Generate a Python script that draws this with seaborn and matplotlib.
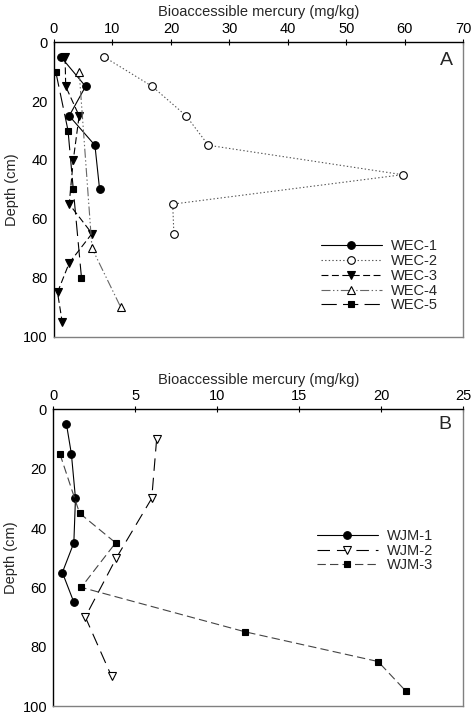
import matplotlib
matplotlib.use("Agg")
import matplotlib.pyplot as plt
import seaborn as sns
import pandas as pd

# ---- data (depth in cm, Hg in mg/kg) ----
wec1_depth = [5, 15, 25, 35, 50]
wec1_hg = [1.2, 5.4, 2.6, 7.0, 7.8]
wec2_depth = [5, 15, 25, 35, 45, 55, 65]
wec2_hg = [8.6, 16.8, 22.6, 26.4, 59.6, 20.3, 20.5]
wec3_depth = [5, 15, 25, 40, 55, 65, 75, 85, 95]
wec3_hg = [1.9, 2.0, 4.3, 3.3, 2.6, 6.5, 2.6, 0.6, 1.4]
wec4_depth = [10, 70, 90]
wec4_hg = [4.3, 6.5, 11.4]
wec5_depth = [10, 30, 50, 80]
wec5_hg = [0.3, 2.4, 3.3, 4.7]

wjm1_depth = [5, 15, 30, 45, 55, 65]
wjm1_hg = [0.8, 1.1, 1.35, 1.25, 0.55, 1.25]
wjm2_depth = [10, 30, 50, 70, 90]
wjm2_hg = [6.3, 6.0, 3.85, 1.95, 3.55]
wjm3_depth = [15, 35, 45, 60, 75, 85, 95]
wjm3_hg = [0.4, 1.6, 3.8, 1.7, 11.7, 19.8, 21.5]

panel_a = {"WEC-1": (wec1_hg, wec1_depth), "WEC-2": (wec2_hg, wec2_depth),
           "WEC-3": (wec3_hg, wec3_depth), "WEC-4": (wec4_hg, wec4_depth),
           "WEC-5": (wec5_hg, wec5_depth)}
panel_b = {"WJM-1": (wjm1_hg, wjm1_depth), "WJM-2": (wjm2_hg, wjm2_depth),
           "WJM-3": (wjm3_hg, wjm3_depth)}

# ---- styles: color, dash pattern, marker, face colour ----
STYLES = {
    "WEC-1": ("black", "-", "o", "black"),
    "WEC-2": ("#555555", (0, (1, 1.6)), "o", "white"),
    "WEC-3": ("black", (0, (5, 2.5)), "v", "black"),
    "WEC-4": ("#666666", (0, (6.5, 1.8, 1, 1.8, 1, 1.8)), "^", "white"),
    "WEC-5": ("black", (0, (11, 4.5)), "s", "black"),
    "WJM-1": ("black", "-", "o", "black"),
    "WJM-2": ("black", (0, (9, 5)), "v", "white"),
    "WJM-3": ("#444444", (0, (6, 3)), "s", "black"),
}

sns.set_style("white")
plt.rcParams["font.family"] = ["Liberation Sans", "DejaVu Sans"]
plt.rcParams["font.size"] = 10.5
plt.rcParams["lines.scale_dashes"] = False


def draw_panel(ax, series, xmax, xstep, letter, leg_anchor):
    for name, (hg, depth) in series.items():
        color, ls, marker, face = STYLES[name]
        df = pd.DataFrame({"hg": hg, "depth": depth})
        sns.lineplot(data=df, x="hg", y="depth", sort=False, estimator=None,
                     ax=ax, color=color, linestyle=ls, linewidth=0.8,
                     marker=marker, markersize=5.5 if marker != "s" else 5,
                     markerfacecolor=face, markeredgecolor="black",
                     markeredgewidth=0.8, label=name, legend=False)
    ax.set_xlim(0, xmax)
    ax.set_ylim(100, 0)
    ax.set_xticks(range(0, xmax + 1, xstep))
    ax.set_yticks(range(0, 101, 20))
    ax.xaxis.set_ticks_position("top")
    ax.xaxis.set_label_position("top")
    ax.set_xlabel("Bioaccessible mercury (mg/kg)", fontsize=10.5, labelpad=4)
    ax.set_ylabel("Depth (cm)", fontsize=10.5, labelpad=3)
    ax.tick_params(axis="both", direction="inout", length=5, width=0.8,
                   labelsize=10.5, pad=2, colors="black")
    for side in ["top", "left"]:
        ax.spines[side].set_color("black")
        ax.spines[side].set_linewidth(1.0)
    for side in ["right", "bottom"]:
        ax.spines[side].set_color("#808080")
        ax.spines[side].set_linewidth(1.0)
    ax.text(*letter[1], letter[0], transform=ax.transAxes, fontsize=14,
            ha="center", va="center")
    ax.legend(loc="upper left", bbox_to_anchor=leg_anchor, frameon=False,
              handlelength=4.2, handletextpad=0.6, labelspacing=0.05,
              borderpad=0, borderaxespad=0, fontsize=10.5)


fig = plt.figure(figsize=(4.72, 7.13), dpi=100)
ax_a = fig.add_axes([0.1144, 0.528, 0.8672, 0.4127])
ax_b = fig.add_axes([0.1130, 0.0098, 0.8686, 0.4161])

draw_panel(ax_a, panel_a, 70, 10, ("A", (0.959, 0.937)), (0.652, 0.33))
draw_panel(ax_b, panel_b, 25, 5, ("B", (0.955, 0.949)), (0.642, 0.597))

fig.savefig("out.png", dpi=100)
